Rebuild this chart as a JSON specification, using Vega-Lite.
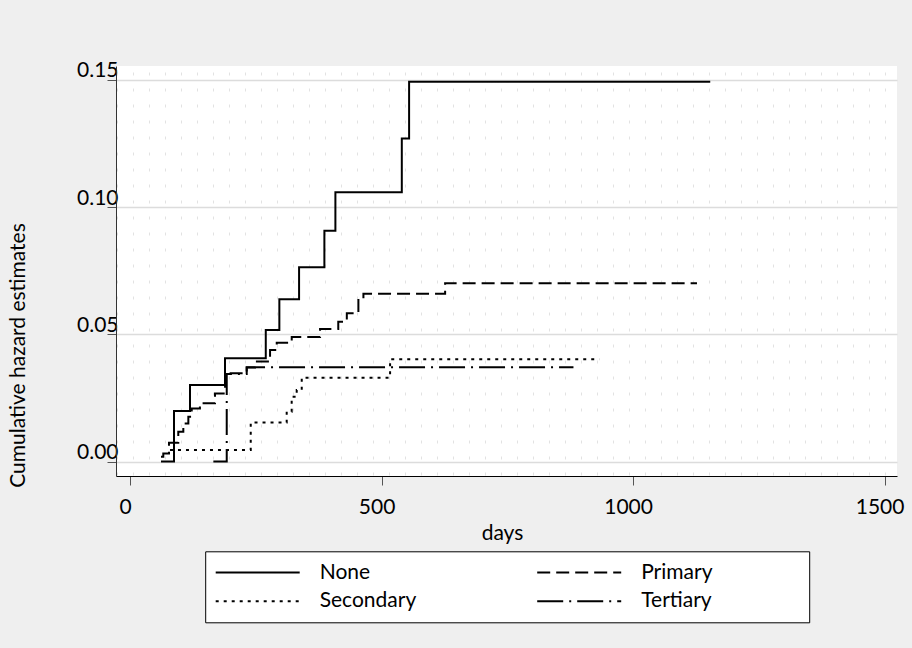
{
  "$schema": "https://vega.github.io/schema/vega-lite/v6.json",
  "width": 781,
  "height": 410,
  "autosize": "none",
  "padding": {"left": 116, "top": 66, "right": 15, "bottom": 172},
  "background": "#efefef",
  "config": {
    "view": {"fill": "white", "stroke": null},
    "font": "Lato"
  },
  "data": {
    "values": [
      {"group": "None", "day": 61.6, "hazard": 0},
      {"group": "None", "day": 87.5, "hazard": 0.0199},
      {"group": "None", "day": 119.3, "hazard": 0.0301},
      {"group": "None", "day": 188.9, "hazard": 0.0406},
      {"group": "None", "day": 269.9, "hazard": 0.0517},
      {"group": "None", "day": 296.9, "hazard": 0.0638},
      {"group": "None", "day": 336.1, "hazard": 0.0764},
      {"group": "None", "day": 386.4, "hazard": 0.0908},
      {"group": "None", "day": 408.3, "hazard": 0.1059},
      {"group": "None", "day": 540.3, "hazard": 0.1271},
      {"group": "None", "day": 554.8, "hazard": 0.1494},
      {"group": "None", "day": 1153.4, "hazard": 0.1494},
      {"group": "Primary", "day": 61.6, "hazard": 0.0019},
      {"group": "Primary", "day": 66.2, "hazard": 0.0032},
      {"group": "Primary", "day": 77.5, "hazard": 0.0074},
      {"group": "Primary", "day": 96, "hazard": 0.0117},
      {"group": "Primary", "day": 106, "hazard": 0.015},
      {"group": "Primary", "day": 116, "hazard": 0.0176},
      {"group": "Primary", "day": 122.7, "hazard": 0.0209},
      {"group": "Primary", "day": 139, "hazard": 0.0229},
      {"group": "Primary", "day": 169, "hazard": 0.0268},
      {"group": "Primary", "day": 189, "hazard": 0.0347},
      {"group": "Primary", "day": 232, "hazard": 0.037},
      {"group": "Primary", "day": 248.6, "hazard": 0.0393},
      {"group": "Primary", "day": 278.4, "hazard": 0.0439},
      {"group": "Primary", "day": 291.7, "hazard": 0.0467},
      {"group": "Primary", "day": 321.5, "hazard": 0.049},
      {"group": "Primary", "day": 377.8, "hazard": 0.0521},
      {"group": "Primary", "day": 414, "hazard": 0.055},
      {"group": "Primary", "day": 431, "hazard": 0.0583},
      {"group": "Primary", "day": 454, "hazard": 0.0635},
      {"group": "Primary", "day": 464, "hazard": 0.066},
      {"group": "Primary", "day": 626.4, "hazard": 0.0701},
      {"group": "Primary", "day": 1127, "hazard": 0.0701},
      {"group": "Secondary", "day": 79.5, "hazard": 0.0045},
      {"group": "Secondary", "day": 240, "hazard": 0.0153},
      {"group": "Secondary", "day": 311.5, "hazard": 0.0196},
      {"group": "Secondary", "day": 321.4, "hazard": 0.0255},
      {"group": "Secondary", "day": 331.4, "hazard": 0.0281},
      {"group": "Secondary", "day": 341.4, "hazard": 0.033},
      {"group": "Secondary", "day": 517, "hazard": 0.0402},
      {"group": "Secondary", "day": 933, "hazard": 0.0402},
      {"group": "Tertiary", "day": 165.7, "hazard": 0},
      {"group": "Tertiary", "day": 192.3, "hazard": 0.0344},
      {"group": "Tertiary", "day": 232, "hazard": 0.0371},
      {"group": "Tertiary", "day": 881.5, "hazard": 0.0371}
    ]
  },
  "mark": {"type": "line", "interpolate": "step-after", "strokeWidth": 2, "color": "black"},
  "encoding": {
    "x": {
      "field": "day",
      "type": "quantitative",
      "scale": {"domain": [-27.8, 1524.6], "nice": false, "zero": false},
      "axis": {
        "title": "days",
        "values": [0, 500, 1000, 1500, -25.24, 6.56, 38.36, 70.15, 101.95, 133.75, 165.55, 197.34, 229.14, 260.94, 292.73, 324.53, 356.33, 388.12, 419.92, 451.72, 483.52, 515.31, 547.11, 578.91, 610.7, 642.5, 674.3, 706.09, 737.89, 769.69, 801.49, 833.28, 865.08, 896.88, 928.67, 960.47, 992.27, 1024.06, 1055.86, 1087.66, 1119.46, 1151.25, 1183.05, 1214.85, 1246.64, 1278.44, 1310.24, 1342.03, 1373.83, 1405.63, 1437.43, 1469.22, 1501.02],
        "format": "d",
        "labelExpr": "datum.value % 500 == 0 ? datum.label : ''",
        "labelOverlap": false,
        "labelFlush": false,
        "labelBaseline": "alphabetic",
        "labelPadding": 28.5,
        "labelOffset": -5,
        "labelFont": "Lato",
        "labelFontSize": 21,
        "labelColor": "black",
        "tickSize": 9,
        "tickColor": "#555555",
        "tickOpacity": {"condition": {"test": "datum.value % 500 == 0", "value": 1}, "value": 0},
        "grid": true,
        "gridColor": "#e2e2e2",
        "gridWidth": 1,
        "gridDash": [3, 13],
        "gridDashOffset": 10,
        "gridOpacity": {"condition": {"test": "datum.value % 500 == 0", "value": 0}, "value": 1},
        "domainColor": "black",
        "domainWidth": 1,
        "titleFont": "Lato",
        "titleFontSize": 21,
        "titleFontWeight": "normal",
        "titleColor": "black",
        "titleX": 386,
        "titleY": 63,
        "titleAlign": "center",
        "titleBaseline": "alphabetic"
      }
    },
    "y": {
      "field": "hazard",
      "type": "quantitative",
      "scale": {"domain": [-0.0057, 0.1556], "nice": false, "zero": false},
      "axis": {
        "title": "Cumulative hazard estimates",
        "values": [0, 0.05, 0.1, 0.15],
        "format": ".2f",
        "labelAlign": "right",
        "labelBaseline": "alphabetic",
        "labelPadding": -11,
        "labelOffset": -3.3,
        "labelFont": "Lato",
        "labelFontSize": 21,
        "labelColor": "black",
        "labelOverlap": false,
        "labelFlush": false,
        "tickSize": 9,
        "tickColor": "#555555",
        "grid": true,
        "gridColor": "#dcdcdc",
        "gridWidth": 1.5,
        "domainColor": "#333333",
        "domainWidth": 1,
        "titleFont": "Lato",
        "titleFontSize": 21,
        "titleFontWeight": "normal",
        "titleColor": "black",
        "titleAngle": -90,
        "titleX": -98,
        "titleY": 289,
        "titleAlign": "center",
        "titleBaseline": "middle"
      }
    },
    "strokeDash": {
      "field": "group",
      "type": "nominal",
      "scale": {
        "domain": ["None", "Primary", "Secondary", "Tertiary"],
        "range": [[1, 0], [13, 6], [3, 5], [26, 6, 2, 6]]
      },
      "legend": {
        "title": null,
        "orient": "none",
        "legendX": 89.2,
        "legendY": 485.3,
        "columns": 2,
        "direction": "horizontal",
        "symbolType": "M-6,0H6",
        "symbolSize": 196,
        "symbolOffset": 31.5,
        "symbolStrokeWidth": 2,
        "symbolStrokeColor": "black",
        "symbolFillColor": "transparent",
        "labelOffset": 51.5,
        "labelFont": "Lato",
        "labelFontSize": 21,
        "labelColor": "black",
        "labelLimit": 0,
        "labelExpr": "datum.label == 'Primary' ? 'Primary\u00a0\u00a0\u2800\u2800\u2800\u2800\u2800' : datum.label",
        "columnPadding": 116.5,
        "rowPadding": 7,
        "padding": 10.5,
        "fillColor": "white",
        "strokeColor": "black"
      }
    }
  }
}
